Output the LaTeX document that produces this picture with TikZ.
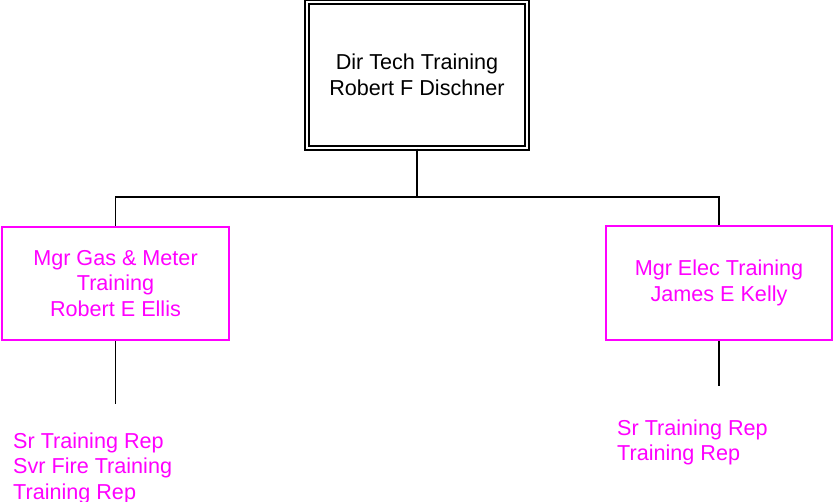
\documentclass[tikz,border=0pt]{standalone}
\usepackage{fontspec}
\setmainfont{Liberation Sans}
\definecolor{mag}{HTML}{FF00FF}
\begin{document}
\begin{tikzpicture}[x=1pt,y=-1pt,
  every node/.style={font=\fontsize{21.6}{25.5}\selectfont},
  topbox/.style={draw=black,double,double distance=2.6pt,line width=1.3pt,minimum width=220pt,minimum height=146pt,align=center,inner sep=0pt},
  mgrbox/.style={draw=mag,line width=1.8pt,text=mag,align=center,inner sep=0pt},
  reps/.style={text=mag,align=left,anchor=west,inner sep=0pt},
  conn/.style={draw=black,line width=1.8pt}]
\useasboundingbox (0,0) rectangle (833,502);
\node[topbox] (top) at (417,75) {Dir Tech Training\\Robert F Dischner};
\node[mgrbox,minimum width=227pt,minimum height=113pt] (gas) at (115.5,283.5) {Mgr Gas \& Meter\\Training\\Robert E Ellis};
\node[mgrbox,minimum width=226pt,minimum height=114pt] (elec) at (719,283) {Mgr Elec Training\\James E Kelly};
\coordinate (j) at (417,197);
\coordinate (gasend) at (115.5,404);
\coordinate (elecend) at (719,386);
\draw[conn] (top.south) -- (j);
\draw[conn] (gas.north) |- (j) -| (elec.north);
\draw[conn] (gas.south) -- (gasend);
\draw[conn] (elec.south) -- (elecend);
\node[reps] (gasreps) at (13,468) {Sr Training Rep\\Svr Fire Training\\Training Rep};
\node[reps] (elecreps) at (617,442.5) {Sr Training Rep\\Training Rep};
\end{tikzpicture}
\end{document}
